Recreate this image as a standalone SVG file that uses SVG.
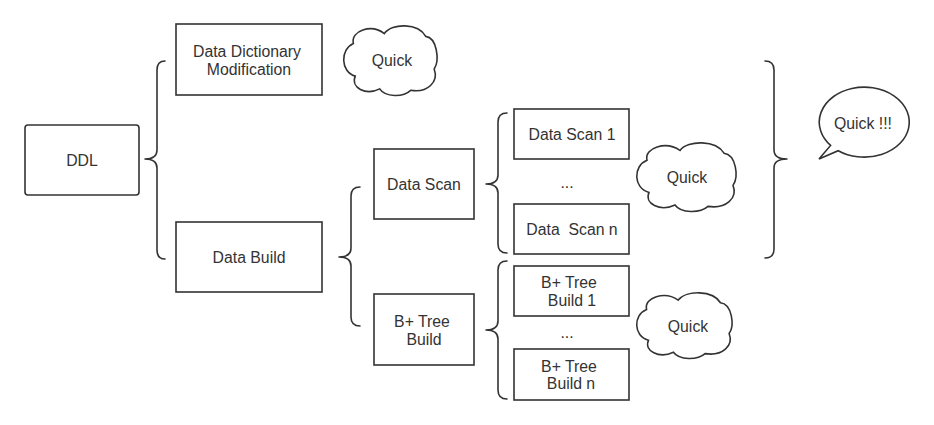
<svg xmlns="http://www.w3.org/2000/svg" width="934" height="425" viewBox="0 0 934 425">
  <style>
    .box { fill: #ffffff; stroke: #333333; stroke-width: 1.6; }
    .brace { fill: none; stroke: #333333; stroke-width: 1.6; stroke-linejoin: round; stroke-linecap: round; }
    .cloud { fill: #ffffff; stroke: #333333; stroke-width: 1.6; vector-effect: non-scaling-stroke; }
    .lbl { font-family: "Liberation Sans", Arial, sans-serif; font-size: 15.8px; fill: #333333; text-anchor: middle; white-space: pre; }
  </style>
  <defs>
    <path id="cloudShape" class="cloud" d="M 11,26 C 8,8 30,-2 44,12 C 52,-3 80,-3 88,16 C 100,18 103,50 97,62 C 102,80 90,96 72,92 C 64,102 45,102 39,90 C 24,100 8,88 13,72 C -3,66 -3,34 11,26 Z"/>
  </defs>
  <rect width="934" height="425" fill="#ffffff"/>

  <g id="connectors">
    <path class="brace" d="M 165,61 Q 157,61 157,70 L 157,150 Q 157,159 145,159 Q 157,159 157,168 L 157,250 Q 157,259 165,259"/>
    <path class="brace" d="M 360,187 Q 351,187 351,196 L 351,248 Q 351,257 339,257 Q 351,257 351,266 L 351,317 Q 351,326 360,326"/>
    <path class="brace" d="M 507,113 Q 498,113 498,122 L 498,175 Q 498,184 486,184 Q 498,184 498,193 L 498,244 Q 498,253 507,253"/>
    <path class="brace" d="M 507,261 Q 498,261 498,270 L 498,321 Q 498,330 486,330 Q 498,330 498,339 L 498,390 Q 498,399 507,399"/>
    <path class="brace" d="M 765,61 Q 774,61 774,70 L 774,150 Q 774,159 787,159 Q 774,159 774,168 L 774,249 Q 774,258 765,258"/>
  </g>

  <g id="node-ddl">
    <rect class="box" x="25" y="125" width="114" height="70" rx="3"/>
    <text class="lbl" x="82" y="166">DDL</text>
  </g>
  <g id="node-ddm">
    <rect class="box" x="176" y="24" width="146" height="71"/>
    <text class="lbl" x="247" y="57">Data Dictionary</text>
    <text class="lbl" x="249" y="75">Modification</text>
  </g>
  <g id="node-quick1">
    <use href="#cloudShape" transform="translate(343,25) scale(0.94,0.71)"/>
    <text class="lbl" x="392" y="66">Quick</text>
  </g>
  <g id="node-databuild">
    <rect class="box" x="176" y="222" width="146" height="70"/>
    <text class="lbl" x="249" y="263">Data Build</text>
  </g>
  <g id="node-datascan">
    <rect class="box" x="374" y="149" width="100" height="70"/>
    <text class="lbl" x="424" y="190">Data Scan</text>
  </g>
  <g id="node-btreebuild">
    <rect class="box" x="374" y="294" width="100" height="71"/>
    <text class="lbl" x="422" y="327">B+ Tree</text>
    <text class="lbl" x="424" y="345">Build</text>
  </g>
  <g id="node-datascan1">
    <rect class="box" x="514" y="109" width="115" height="50"/>
    <text class="lbl" x="572" y="140">Data Scan 1</text>
  </g>
  <g id="node-dots1">
    <text class="lbl" x="567" y="188">...</text>
  </g>
  <g id="node-datascann">
    <rect class="box" x="514" y="204" width="115" height="50"/>
    <text class="lbl" x="572" y="235">Data  Scan n</text>
  </g>
  <g id="node-btree1">
    <rect class="box" x="514" y="266" width="115" height="50"/>
    <text class="lbl" x="569" y="288">B+ Tree</text>
    <text class="lbl" x="572" y="306">Build 1</text>
  </g>
  <g id="node-dots2">
    <text class="lbl" x="567" y="338">...</text>
  </g>
  <g id="node-btreen">
    <rect class="box" x="514" y="349" width="115" height="51"/>
    <text class="lbl" x="569" y="372">B+ Tree</text>
    <text class="lbl" x="571" y="389">Build n</text>
  </g>
  <g id="node-quick2">
    <use href="#cloudShape" transform="translate(636,142) scale(1.0,0.70)"/>
    <text class="lbl" x="687" y="183">Quick</text>
  </g>
  <g id="node-quick3">
    <use href="#cloudShape" transform="translate(636,292) scale(0.96,0.67)"/>
    <text class="lbl" x="688" y="332">Quick</text>
  </g>
  <g id="node-quick-bubble">
    <path class="box" d="M 838.2,150.7 A 45 35 0 1 0 830.6,145.4 L 819,159 Z"/>
    <text class="lbl" x="863" y="129">Quick !!!</text>
  </g>
</svg>
